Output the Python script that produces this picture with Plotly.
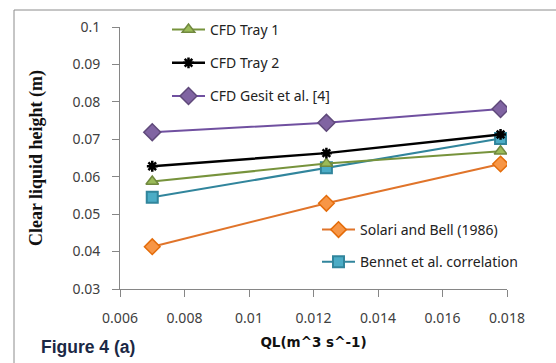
import plotly.graph_objects as go

# ---- data ----
ql = [0.007, 0.0124, 0.0178]
cfd_tray1 = [0.0587, 0.0635, 0.0668]
cfd_tray2 = [0.0628, 0.0663, 0.0713]
cfd_gesit = [0.0719, 0.0744, 0.0781]
solari_bell = [0.0413, 0.0529, 0.0634]
bennet = [0.0545, 0.0624, 0.0702]

x_ticks = [0.006, 0.008, 0.010, 0.012, 0.014, 0.016, 0.018]
x_ticktext = ["0.006", "0.008", "0.01", "0.012", "0.014", "0.016", "0.018"]
y_ticks = [0.03, 0.04, 0.05, 0.06, 0.07, 0.08, 0.09, 0.10]
y_ticktext = ["0.03", "0.04", "0.05", "0.06", "0.07", "0.08", "0.09", "0.1"]

W, H = 556, 363
L, R, T, B = 120, 49, 27, 74
pw, ph = W - L - R, H - T - B

def px_x(p):
    return (p - L) / pw

def px_y(p):
    return (H - B - p) / ph

fig = go.Figure()

fig.add_trace(go.Scatter(
    x=ql, y=bennet, name="Bennet et al. correlation", mode="lines+markers",
    line=dict(color="#31859C", width=2),
    marker=dict(symbol="square", size=11, color="#4BACC6", line=dict(color="#31859C", width=2)),
    legend="legend2", legendrank=2, legendgroup="e"))
fig.add_trace(go.Scatter(
    x=ql, y=solari_bell, name="Solari and Bell (1986)", mode="lines+markers",
    line=dict(color="#E0742A", width=2),
    marker=dict(symbol="diamond", size=12, color="#F79646", line=dict(color="#E46C0A", width=1.5)),
    legend="legend2", legendrank=1, legendgroup="d"))
fig.add_trace(go.Scatter(
    x=ql, y=cfd_gesit, name="CFD Gesit et al. [4]", mode="lines+markers",
    line=dict(color="#7050A0", width=2),
    marker=dict(symbol="diamond", size=13, color="#8064A2", line=dict(color="#5F497A", width=1.5)),
    legendrank=3, legendgroup="c"))
fig.add_trace(go.Scatter(
    x=ql, y=cfd_tray1, name="CFD Tray 1", mode="lines+markers",
    line=dict(color="#77933C", width=2),
    marker=dict(symbol="triangle-up", size=11, color="#9BBB59", line=dict(color="#71893F", width=1.5)),
    legendrank=1, legendgroup="a"))
fig.add_trace(go.Scatter(
    x=ql, y=cfd_tray2, name="CFD Tray 2", mode="lines+markers",
    line=dict(color="#000000", width=2.5),
    marker=dict(symbol="asterisk-open", size=9, color="#000000", line=dict(color="#000000", width=2.5)),
    legendrank=2, legendgroup="b"))

axis_col = "#868686"
tick_font = dict(family="Noto Sans", size=14, color="#404040")
leg_font = dict(family="Noto Sans", size=14, color="#222222")

fig.update_layout(
    width=W, height=H,
    margin=dict(l=L, r=R, t=T, b=B, autoexpand=False),
    paper_bgcolor="white", plot_bgcolor="white",
    showlegend=True,
    xaxis=dict(range=[0.006, 0.018], tickvals=x_ticks, ticktext=x_ticktext,
               showgrid=False, zeroline=False, showline=True, linecolor=axis_col, linewidth=1,
               ticks="outside", ticklen=7, tickcolor=axis_col, tickfont=tick_font, ticklabelstandoff=9,
               title=dict(text="QL(m^3 s^-1)", font=dict(family="DejaVu Sans", size=13.5, color="#111111",
                                                         weight="bold"), standoff=11)),
    yaxis=dict(range=[0.03, 0.1], tickvals=y_ticks, ticktext=y_ticktext,
               showgrid=False, zeroline=False, showline=True, linecolor=axis_col, linewidth=1,
               ticks="outside", ticklen=7, tickcolor=axis_col, tickfont=tick_font, ticklabelstandoff=9,
               title=dict(text="Clear liquid height (m)", font=dict(family="Liberation Serif", size=18,
                                                                   color="#111111", weight="bold"),
                          standoff=25)),
    legend=dict(x=px_x(167), y=px_y(14), xanchor="left", yanchor="top", bgcolor="rgba(0,0,0,0)",
                font=leg_font, tracegroupgap=12, itemwidth=33,
                traceorder="grouped"),
    legend2=dict(x=px_x(317), y=px_y(214), xanchor="left", yanchor="top", bgcolor="rgba(0,0,0,0)",
                 font=leg_font, tracegroupgap=11, itemwidth=33,
                 traceorder="grouped"),
    shapes=[
        dict(type="line", xref="paper", yref="paper", x0=px_x(14), x1=px_x(14), y0=px_y(10), y1=px_y(400),
             line=dict(color="#8C8C8C", width=1)),
        dict(type="line", xref="paper", yref="paper", x0=px_x(14), x1=px_x(600), y0=px_y(10), y1=px_y(10),
             line=dict(color="#8C8C8C", width=1)),
    ],
    annotations=[
        dict(text="Figure 4 (a)", xref="paper", yref="paper", x=px_x(39), y=px_y(347),
             xanchor="left", yanchor="middle", showarrow=False,
             font=dict(family="Liberation Sans", size=17.5, color="#1B2845", weight="bold")),
    ],
)

fig.write_html("out.html")
